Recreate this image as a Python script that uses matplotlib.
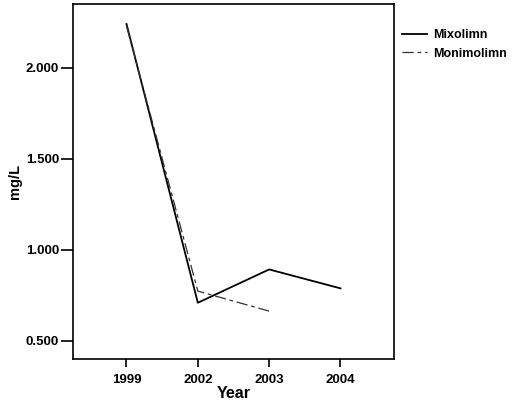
import matplotlib
matplotlib.use("Agg")
import matplotlib.pyplot as plt
from matplotlib.ticker import FuncFormatter

years = ["1999", "2002", "2003", "2004"]
mixolimn = [2.24, 0.709, 0.892, 0.788]
monimolimn_years = ["1999", "2002", "2003"]
monimolimn = [2.23, 0.773, 0.663]
yticks = [0.5, 1.0, 1.5, 2.0]

plt.rcParams['font.family'] = ['Liberation Sans', 'DejaVu Sans']
fig = plt.figure(figsize=(5.14, 4.11), dpi=100)
ax = fig.add_axes([73/514, 1-359/411, (394-73)/514, (359-4)/411])

xm = list(range(len(years)))
xn = [years.index(y) for y in monimolimn_years]
ax.plot(xm, mixolimn, color='black', lw=1.3, label='Mixolimn')
ax.plot(xn, monimolimn, color='#333333', lw=0.9, dashes=(9, 3, 3, 3), label='Monimolimn')

ax.set_xlim(-0.75, 3.75)
ax.set_ylim(0.4, 2.35)
ax.set_xticks(xm)
ax.set_xticklabels(years)
ax.set_yticks(yticks)
ax.yaxis.set_major_formatter(FuncFormatter(lambda v, p: f"{v:.3f}"))
ax.tick_params(axis='y', direction='out', length=9, width=1.2, labelsize=9.5, pad=1)
ax.tick_params(axis='x', direction='out', length=6, width=1.2, labelsize=9.5, pad=5)
for lab in ax.get_xticklabels() + ax.get_yticklabels():
    lab.set_fontweight('bold')
for s in ax.spines.values():
    s.set_linewidth(1.2)
ax.set_xlabel('Year', fontsize=11.5, fontweight='bold', labelpad=0)
ax.set_ylabel('mg/L', fontsize=10.5, fontweight='bold', labelpad=3)

leg = fig.legend(loc='upper left', bbox_to_anchor=(397/514, 1-24/411), frameon=False,
                 prop={'size': 9, 'weight': 'bold'}, handlelength=2.0, handletextpad=0.5,
                 labelspacing=0.55, borderaxespad=0)

fig.savefig('out.png', dpi=100)
